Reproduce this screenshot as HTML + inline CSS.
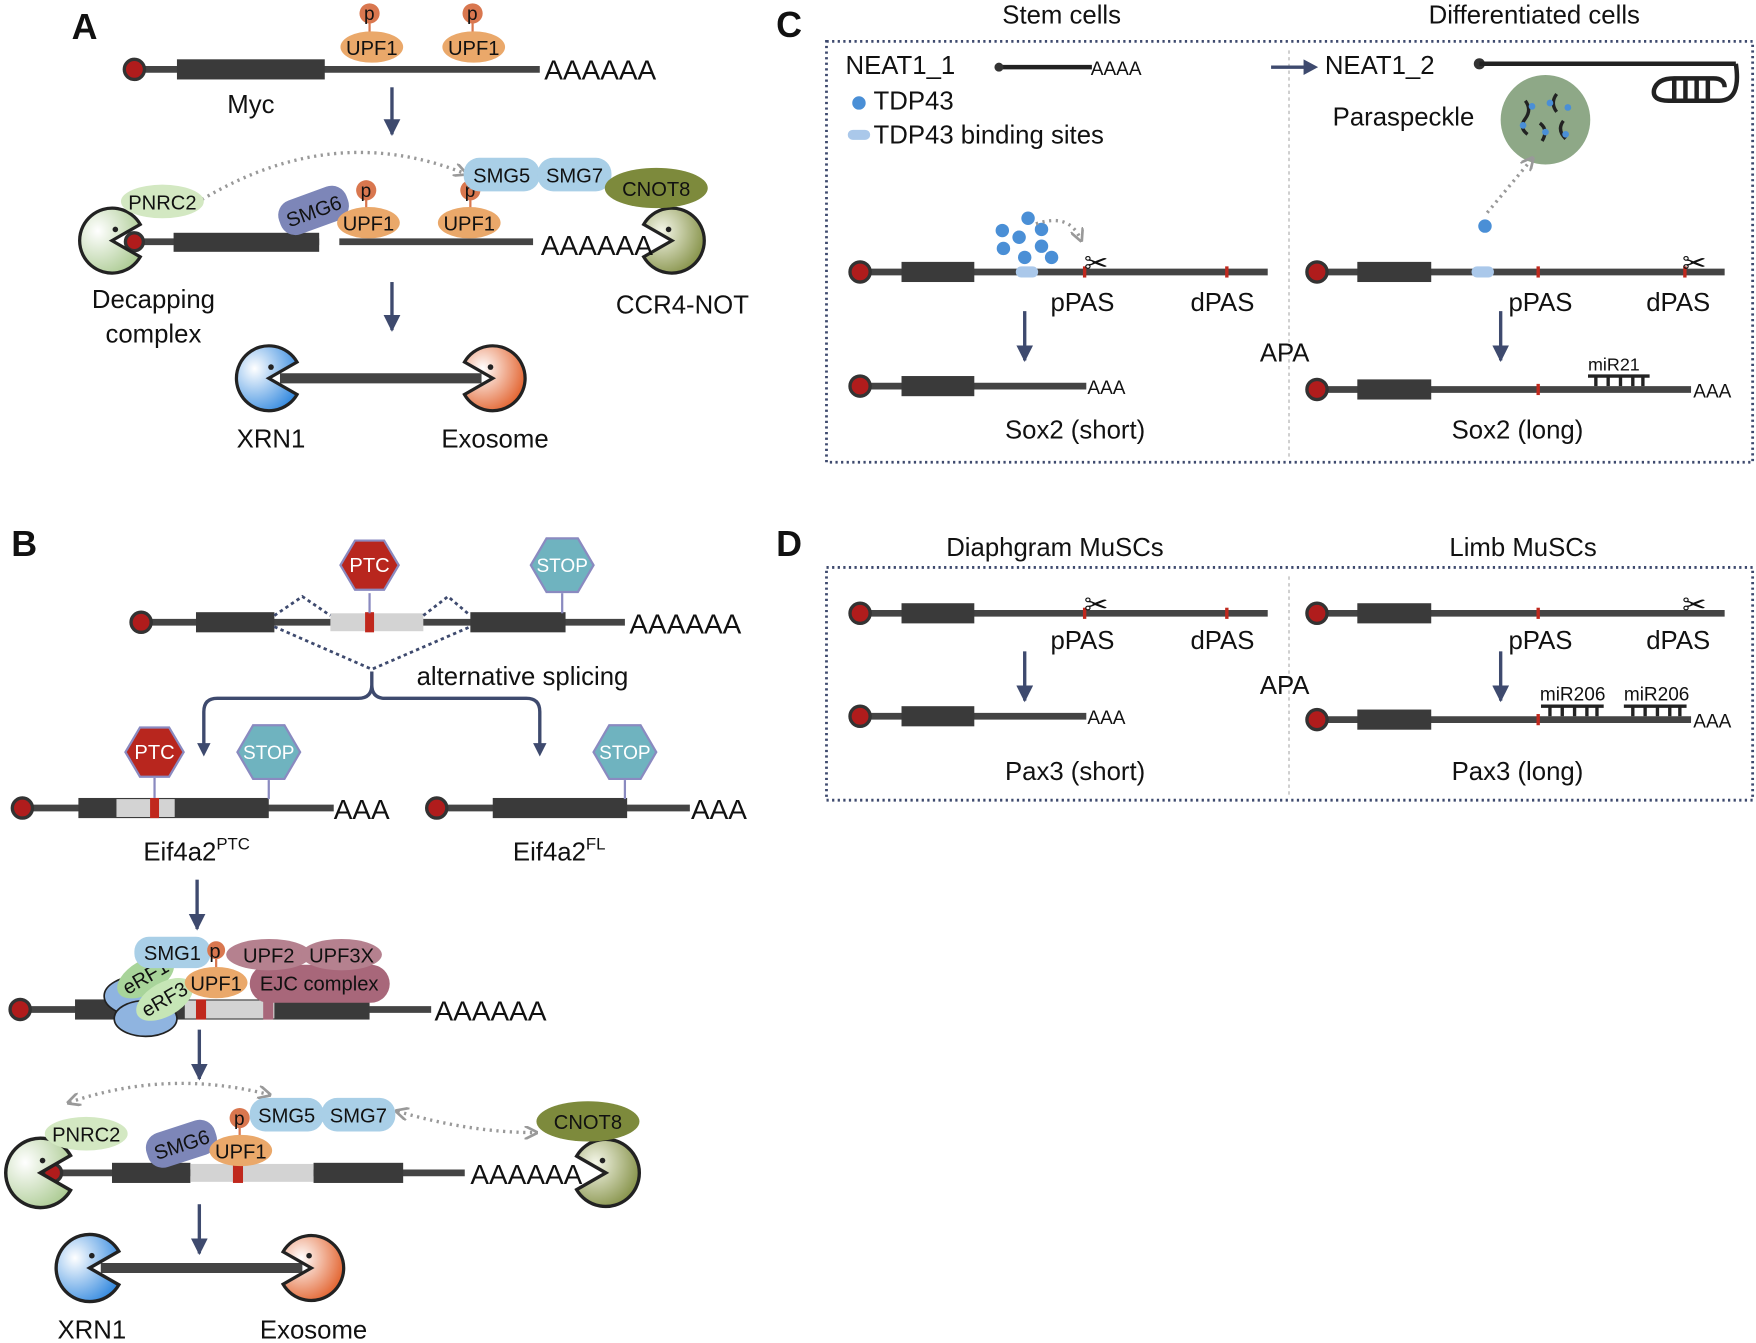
<!DOCTYPE html>
<html><head><meta charset="utf-8"><style>html,body{margin:0;padding:0;background:#fff}svg{display:block}text{font-family:"Liberation Sans",Arial,sans-serif;fill:#111}</style></head><body>
<svg width="1756" height="1343" viewBox="0 0 1568 1200" preserveAspectRatio="none" xmlns="http://www.w3.org/2000/svg">
<defs>
<radialGradient id="gG" cx="0.3" cy="0.35" r="0.8"><stop offset="0" stop-color="#fff"/><stop offset="1" stop-color="#a9c98f"/></radialGradient>
<radialGradient id="gO" cx="0.7" cy="0.35" r="0.8"><stop offset="0" stop-color="#f4f6e8"/><stop offset="1" stop-color="#7d8a3c"/></radialGradient>
<radialGradient id="gB" cx="0.3" cy="0.35" r="0.8"><stop offset="0" stop-color="#fff"/><stop offset="1" stop-color="#2e86de"/></radialGradient>
<radialGradient id="gR" cx="0.7" cy="0.35" r="0.8"><stop offset="0" stop-color="#fff"/><stop offset="1" stop-color="#e0561d"/></radialGradient>
<marker id="ah" viewBox="0 0 10 10" refX="9" refY="5" markerWidth="5" markerHeight="5" orient="auto"><path d="M0,0 L10,5 L0,10 Z" fill="#3e4a6e"/></marker>
<marker id="ag" viewBox="0 0 10 10" refX="8" refY="5" markerWidth="4" markerHeight="4" orient="auto-start-reverse"><path d="M0,0 L10,5 L0,10" fill="none" stroke="#999" stroke-width="2"/></marker>
</defs>
<style>
.ln{stroke:#444;stroke-width:6}
.cds{fill:#3a3a3a}
.cap{fill:#b01c1c;stroke:#333;stroke-width:3}
.ar{stroke:#3e4a6e;stroke-width:3;fill:none}
.t{font-size:23px}
.s{font-size:18px}
.dot{stroke:#999;stroke-width:3;stroke-dasharray:2 4;fill:none}
.hd{font-size:32px;font-weight:bold}
</style>

<!-- ================= A ================= -->
<text x="64" y="35" class="hd">A</text>
<line x1="120" y1="62" x2="482" y2="62" class="ln"/>
<rect x="158" y="53" width="132" height="18" class="cds"/>
<circle cx="120" cy="62" r="9" class="cap"/>
<line x1="330" y1="18" x2="330" y2="32" stroke="#d9774f" stroke-width="2"/><circle cx="330" cy="12" r="9" fill="#d9774f"/><text x="325" y="18" font-size="17">p</text>
<line x1="422" y1="18" x2="422" y2="32" stroke="#d9774f" stroke-width="2"/><circle cx="422" cy="12" r="9" fill="#d9774f"/><text x="417" y="18" font-size="17">p</text>
<ellipse cx="332" cy="42" rx="28" ry="14" fill="#eaa86a"/><text x="332" y="49" class="s" text-anchor="middle">UPF1</text>
<ellipse cx="423" cy="42" rx="28" ry="14" fill="#eaa86a"/><text x="423" y="49" class="s" text-anchor="middle">UPF1</text>
<text x="486" y="71" font-size="25">AAAAAA</text>
<text x="224" y="101" class="t" text-anchor="middle">Myc</text>
<line x1="350" y1="78" x2="350" y2="120" class="ar" marker-end="url(#ah)"/>

<path d="M165,188 Q290,105 415,155" class="dot" marker-start="url(#ag)" marker-end="url(#ag)"/>
<line x1="115" y1="216" x2="285" y2="216" class="ln"/>
<rect x="155" y="208" width="130" height="17" class="cds"/>
<line x1="303" y1="216" x2="476" y2="216" class="ln"/>
<circle cx="120" cy="216" r="8" class="cap"/>
<path transform="translate(100,215) scale(29)" d="M0,0 L0.87,-0.5 A1,1 0 1,0 0.87,0.5 Z" fill="url(#gG)" stroke="#222" stroke-width="0.1"/>
<circle cx="103" cy="205" r="2.5" fill="#222"/>
<path transform="translate(600,215) scale(-29,29)" d="M0,0 L0.87,-0.5 A1,1 0 1,0 0.87,0.5 Z" fill="url(#gO)" stroke="#222" stroke-width="0.1"/>
<circle cx="597" cy="205" r="2.5" fill="#222"/>
<ellipse cx="145" cy="180" rx="37" ry="15" fill="#d3e8c2"/><text x="145" y="187" class="s" text-anchor="middle">PNRC2</text>
<g transform="translate(280,188) rotate(-20)"><rect x="-32" y="-16" width="64" height="32" rx="14" fill="#7d86b8"/><text x="0" y="7" class="s" text-anchor="middle">SMG6</text></g>
<line x1="327" y1="175" x2="327" y2="187" stroke="#d9774f" stroke-width="2"/><circle cx="327" cy="170" r="9" fill="#d9774f"/><text x="322" y="176" font-size="17">p</text>
<line x1="420" y1="175" x2="420" y2="187" stroke="#d9774f" stroke-width="2"/><circle cx="420" cy="170" r="9" fill="#d9774f"/><text x="415" y="176" font-size="17">p</text>
<ellipse cx="329" cy="199" rx="28" ry="14" fill="#eaa86a"/><text x="329" y="206" class="s" text-anchor="middle">UPF1</text>
<ellipse cx="419" cy="199" rx="28" ry="14" fill="#eaa86a"/><text x="419" y="206" class="s" text-anchor="middle">UPF1</text>
<rect x="414" y="141" width="68" height="30" rx="14" fill="#a9cfe7"/><text x="448" y="163" class="s" text-anchor="middle">SMG5</text>
<rect x="480" y="141" width="66" height="30" rx="14" fill="#a9cfe7"/><text x="513" y="163" class="s" text-anchor="middle">SMG7</text>
<ellipse cx="586" cy="168" rx="46" ry="18" fill="#7d8a3c"/><text x="586" y="175" class="s" text-anchor="middle">CNOT8</text>
<text x="483" y="228" font-size="25">AAAAAA</text>
<text x="137" y="275" class="t" text-anchor="middle">Decapping</text>
<text x="137" y="306" class="t" text-anchor="middle">complex</text>
<text x="550" y="280" class="t">CCR4-NOT</text>
<rect x="680" y="250" width="12" height="40" fill="#fff"/>
<line x1="350" y1="252" x2="350" y2="295" class="ar" marker-end="url(#ah)"/>
<line x1="250" y1="338" x2="430" y2="338" stroke="#444" stroke-width="9"/>
<path transform="translate(240,338) scale(29)" d="M0,0 L0.87,-0.5 A1,1 0 1,0 0.87,0.5 Z" fill="url(#gB)" stroke="#222" stroke-width="0.1"/><circle cx="242" cy="328" r="2.5" fill="#222"/>
<path transform="translate(440,338) scale(-29,29)" d="M0,0 L0.87,-0.5 A1,1 0 1,0 0.87,0.5 Z" fill="url(#gR)" stroke="#222" stroke-width="0.1"/><circle cx="438" cy="328" r="2.5" fill="#222"/>
<text x="242" y="400" class="t" text-anchor="middle">XRN1</text>
<text x="442" y="400" class="t" text-anchor="middle">Exosome</text>

<!-- ================= B ================= -->
<text x="10" y="497" class="hd">B</text>
<line x1="125" y1="556" x2="558" y2="556" class="ln"/>
<rect x="175" y="547" width="70" height="18" class="cds"/>
<rect x="295" y="548" width="83" height="16" fill="#d3d3d3"/><rect x="326" y="547" width="8" height="18" fill="#c0281d"/>
<rect x="420" y="547" width="85" height="18" class="cds"/>
<circle cx="126" cy="556" r="9" class="cap"/>
<path d="M245,550 L270,533 L295,550 M378,550 L400,533 L420,550 M245,560 L332,598 L420,560" fill="none" stroke="#3e4a6e" stroke-width="2.5" stroke-dasharray="3 3"/>
<line x1="330" y1="530" x2="330" y2="548" stroke="#8a8ac0" stroke-width="2"/>
<polygon points="356,505 343,527 317,527 304,505 317,483 343,483" fill="#b8261e" stroke="#8a8ac0" stroke-width="2"/><text x="330" y="511" class="s" style="fill:#fff" text-anchor="middle">PTC</text>
<line x1="502" y1="530" x2="502" y2="548" stroke="#8a8ac0" stroke-width="2"/>
<polygon points="530,505 516,529 488,529 474,505 488,481 516,481" fill="#6fb3bf" stroke="#8a8ac0" stroke-width="2"/><text x="502" y="511" font-size="17" style="fill:#fff" text-anchor="middle">STOP</text>
<text x="562" y="566" font-size="25">AAAAAA</text>
<text x="372" y="612" class="t">alternative splicing</text>
<path d="M332,600 L332,612 Q332,624 320,624 L194,624 Q182,624 182,636 L182,668 M332,612 Q332,624 344,624 L470,624 Q482,624 482,636 L482,668" class="ar"/>
<path d="M176,664 L182,676 L188,664 Z M476,664 L482,676 L488,664 Z" fill="#3e4a6e"/>

<line x1="20" y1="722" x2="298" y2="722" class="ln"/>
<rect x="70" y="713" width="170" height="18" class="cds"/>
<rect x="104" y="714" width="52" height="16" fill="#d3d3d3"/><rect x="134" y="713" width="8" height="18" fill="#c0281d"/>
<circle cx="20" cy="722" r="9" class="cap"/>
<line x1="138" y1="695" x2="138" y2="713" stroke="#8a8ac0" stroke-width="2"/>
<polygon points="164,672 151,694 125,694 112,672 125,650 151,650" fill="#b8261e" stroke="#8a8ac0" stroke-width="2"/><text x="138" y="678" class="s" style="fill:#fff" text-anchor="middle">PTC</text>
<line x1="240" y1="697" x2="240" y2="714" stroke="#8a8ac0" stroke-width="2"/>
<polygon points="268,672 254,696 226,696 212,672 226,648 254,648" fill="#6fb3bf" stroke="#8a8ac0" stroke-width="2"/><text x="240" y="678" font-size="17" style="fill:#fff" text-anchor="middle">STOP</text>
<text x="298" y="732" font-size="25">AAA</text>
<line x1="390" y1="722" x2="616" y2="722" class="ln"/>
<rect x="440" y="713" width="120" height="18" class="cds"/>
<circle cx="390" cy="722" r="9" class="cap"/>
<line x1="558" y1="697" x2="558" y2="714" stroke="#8a8ac0" stroke-width="2"/>
<polygon points="586,672 572,696 544,696 530,672 544,648 572,648" fill="#6fb3bf" stroke="#8a8ac0" stroke-width="2"/><text x="558" y="678" font-size="17" style="fill:#fff" text-anchor="middle">STOP</text>
<text x="617" y="732" font-size="25">AAA</text>
<text x="128" y="769" class="t">Eif4a2<tspan font-size="15" dy="-10">PTC</tspan></text>
<text x="458" y="769" class="t">Eif4a2<tspan font-size="15" dy="-10">FL</tspan></text>
<line x1="176" y1="786" x2="176" y2="830" class="ar" marker-end="url(#ah)"/>

<line x1="17" y1="902" x2="385" y2="902" class="ln"/>
<rect x="67" y="893" width="263" height="18" class="cds"/>
<rect x="165" y="894" width="80" height="16" fill="#d3d3d3"/><rect x="175" y="893" width="9" height="18" fill="#c0281d"/><rect x="235" y="885" width="9" height="26" fill="#a8677a"/>
<circle cx="18" cy="902" r="9" class="cap"/>
<ellipse cx="125" cy="890" rx="32" ry="18" fill="#8fb4e0" stroke="#222" stroke-width="1.5"/>
<ellipse cx="130" cy="910" rx="28" ry="16" fill="#8fb4e0" stroke="#222" stroke-width="1.5"/>
<g transform="translate(130,873) rotate(-30)"><ellipse rx="28" ry="15" fill="#a8d49a"/><text y="6" class="s" text-anchor="middle">eRF1</text></g>
<g transform="translate(147,893) rotate(-30)"><ellipse rx="28" ry="15" fill="#c6e6b6"/><text y="6" class="s" text-anchor="middle">eRF3</text></g>
<rect x="223" y="862" width="125" height="34" rx="17" fill="#a8677a"/><text x="285" y="885" class="s" text-anchor="middle">EJC complex</text>
<ellipse cx="240" cy="853" rx="38" ry="14" fill="#b5818f"/><text x="240" y="860" class="s" text-anchor="middle">UPF2</text>
<ellipse cx="305" cy="853" rx="36" ry="14" fill="#b5818f"/><text x="305" y="860" class="s" text-anchor="middle">UPF3X</text>
<rect x="120" y="837" width="68" height="28" rx="13" fill="#a9cfe7"/><text x="154" y="858" class="s" text-anchor="middle">SMG1</text>
<line x1="193" y1="854" x2="193" y2="866" stroke="#d9774f" stroke-width="2"/><circle cx="193" cy="849" r="8" fill="#d9774f"/><text x="187" y="856" font-size="18">p</text>
<ellipse cx="193" cy="878" rx="28" ry="14" fill="#eaa86a"/><text x="193" y="885" class="s" text-anchor="middle">UPF1</text>
<text x="388" y="912" font-size="25">AAAAAA</text>
<line x1="178" y1="920" x2="178" y2="964" class="ar" marker-end="url(#ah)"/>

<path d="M62,985 Q150,955 240,978" class="dot" marker-start="url(#ag)" marker-end="url(#ag)"/>
<path d="M355,993 Q420,1012 478,1012" class="dot" marker-start="url(#ag)" marker-end="url(#ag)"/>
<line x1="45" y1="1048" x2="415" y2="1048" class="ln"/>
<rect x="100" y="1039" width="70" height="18" class="cds"/>
<rect x="170" y="1040" width="110" height="16" fill="#d3d3d3"/><rect x="208" y="1039" width="9" height="18" fill="#c0281d"/>
<rect x="280" y="1039" width="80" height="18" class="cds"/>
<circle cx="47" cy="1048" r="8" class="cap"/>
<path transform="translate(36,1048) scale(31)" d="M0,0 L0.87,-0.5 A1,1 0 1,0 0.87,0.5 Z" fill="url(#gG)" stroke="#222" stroke-width="0.1"/><circle cx="38" cy="1037" r="2.5" fill="#222"/>
<path transform="translate(541,1048) scale(-30,30)" d="M0,0 L0.87,-0.5 A1,1 0 1,0 0.87,0.5 Z" fill="url(#gO)" stroke="#222" stroke-width="0.1"/><circle cx="538" cy="1037" r="2.5" fill="#222"/>
<ellipse cx="77" cy="1013" rx="37" ry="15" fill="#d3e8c2"/><text x="77" y="1020" class="s" text-anchor="middle">PNRC2</text>
<g transform="translate(162,1022) rotate(-18)"><rect x="-32" y="-16" width="64" height="32" rx="14" fill="#7d86b8"/><text x="0" y="7" class="s" text-anchor="middle">SMG6</text></g>
<line x1="214" y1="1004" x2="214" y2="1016" stroke="#d9774f" stroke-width="2"/><circle cx="214" cy="999" r="9" fill="#d9774f"/><text x="209" y="1005" font-size="17">p</text>
<ellipse cx="215" cy="1028" rx="28" ry="14" fill="#eaa86a"/><text x="215" y="1035" class="s" text-anchor="middle">UPF1</text>
<rect x="223" y="981" width="66" height="30" rx="14" fill="#a9cfe7"/><text x="256" y="1003" class="s" text-anchor="middle">SMG5</text>
<rect x="287" y="981" width="66" height="30" rx="14" fill="#a9cfe7"/><text x="320" y="1003" class="s" text-anchor="middle">SMG7</text>
<ellipse cx="525" cy="1002" rx="46" ry="18" fill="#7d8a3c"/><text x="525" y="1009" class="s" text-anchor="middle">CNOT8</text>
<text x="420" y="1058" font-size="25">AAAAAA</text>
<line x1="178" y1="1076" x2="178" y2="1120" class="ar" marker-end="url(#ah)"/>
<line x1="90" y1="1133" x2="270" y2="1133" stroke="#444" stroke-width="9"/>
<path transform="translate(80,1133) scale(30)" d="M0,0 L0.87,-0.5 A1,1 0 1,0 0.87,0.5 Z" fill="url(#gB)" stroke="#222" stroke-width="0.1"/><circle cx="82" cy="1122" r="2.5" fill="#222"/>
<path transform="translate(278,1133) scale(-29,29)" d="M0,0 L0.87,-0.5 A1,1 0 1,0 0.87,0.5 Z" fill="url(#gR)" stroke="#222" stroke-width="0.1"/><circle cx="276" cy="1122" r="2.5" fill="#222"/>
<text x="82" y="1196" class="t" text-anchor="middle">XRN1</text>
<text x="280" y="1196" class="t" text-anchor="middle">Exosome</text>

<!-- ================= C ================= -->
<text x="693" y="33" class="hd">C</text>
<text x="948" y="21" class="t" text-anchor="middle">Stem cells</text>
<text x="1370" y="21" class="t" text-anchor="middle">Differentiated cells</text>
<rect x="738" y="37" width="827" height="376" fill="none" stroke="#3e4a6e" stroke-width="2.5" stroke-dasharray="2 3"/>
<line x1="1151" y1="45" x2="1151" y2="408" stroke="#aaa" stroke-width="1" stroke-dasharray="3 3"/>
<text x="755" y="66" class="t">NEAT1_1</text>
<line x1="892" y1="60" x2="975" y2="60" stroke="#222" stroke-width="4"/><circle cx="892" cy="60" r="4" fill="#333"/>
<text x="974" y="67" font-size="17">AAAA</text>
<circle cx="767" cy="92" r="6" fill="#4a8fd6"/><text x="780" y="98" class="t">TDP43</text>
<rect x="757" y="116" width="20" height="9" rx="4.5" fill="#aac8ea"/><text x="780" y="128" class="t">TDP43 binding sites</text>
<line x1="1135" y1="60" x2="1168" y2="60" stroke="#3e4a6e" stroke-width="3"/><path d="M1164,53 L1177,60 L1164,67 Z" fill="#3e4a6e"/>
<text x="1183" y="66" class="t">NEAT1_2</text>
<circle cx="1321" cy="57" r="5" fill="#333"/>
<path d="M1321,57 L1550,57 M1550,57 Q1555,90 1535,90 L1490,90 Q1475,90 1477,80 Q1480,70 1495,70 L1530,70 Q1540,70 1540,78 M1495,70 L1495,90 M1505,70 L1505,90 M1515,70 L1515,90 M1525,70 L1525,90" fill="none" stroke="#222" stroke-width="4"/>
<text x="1190" y="112" class="t">Paraspeckle</text>
<circle cx="1380" cy="107" r="40" fill="#8ea887"/>
<g stroke="#222" stroke-width="3" fill="none"><path d="M1362,90 q6,8 0,16 q-6,8 2,14"/><path d="M1390,84 q-6,8 0,16"/><path d="M1375,110 q8,6 2,16"/><path d="M1396,108 q-6,8 2,16"/></g>
<g fill="#4a8fd6"><circle cx="1368" cy="95" r="3"/><circle cx="1384" cy="92" r="3"/><circle cx="1400" cy="96" r="3"/><circle cx="1360" cy="112" r="3"/><circle cx="1380" cy="118" r="3"/><circle cx="1398" cy="120" r="3"/></g>
<path d="M1328,190 L1368,142" class="dot" marker-end="url(#ag)"/>
<circle cx="1326" cy="202" r="6" fill="#4a8fd6"/>

<line x1="768" y1="243" x2="1132" y2="243" class="ln"/>
<rect x="805" y="234" width="65" height="18" class="cds"/>
<rect x="967" y="238" width="3" height="10" fill="#c0281d"/><rect x="1094" y="238" width="3" height="10" fill="#c0281d"/>
<circle cx="768" cy="243" r="9" class="cap"/>
<rect x="907" y="238" width="20" height="10" rx="5" fill="#aac8ea"/>
<g fill="#4a8fd6"><circle cx="895" cy="206" r="6"/><circle cx="918" cy="195" r="6"/><circle cx="910" cy="212" r="6"/><circle cx="930" cy="205" r="6"/><circle cx="896" cy="222" r="6"/><circle cx="915" cy="230" r="6"/><circle cx="930" cy="220" r="6"/><circle cx="939" cy="230" r="6"/></g>
<path d="M925,200 Q955,190 965,214" class="dot" marker-end="url(#ag)"/>
<text x="968" y="244" font-size="26">✂</text>
<text x="938" y="278" class="t">pPAS</text><text x="1063" y="278" class="t">dPAS</text>
<line x1="1175" y1="243" x2="1540" y2="243" class="ln"/>
<rect x="1212" y="234" width="66" height="18" class="cds"/>
<rect x="1372" y="238" width="3" height="10" fill="#c0281d"/><rect x="1503" y="238" width="3" height="10" fill="#c0281d"/>
<circle cx="1176" cy="243" r="9" class="cap"/>
<rect x="1314" y="238" width="20" height="10" rx="5" fill="#aac8ea"/>
<text x="1502" y="244" font-size="26">✂</text>
<text x="1347" y="278" class="t">pPAS</text><text x="1470" y="278" class="t">dPAS</text>
<line x1="915" y1="278" x2="915" y2="322" class="ar" marker-end="url(#ah)"/>
<line x1="1340" y1="278" x2="1340" y2="322" class="ar" marker-end="url(#ah)"/>
<text x="1125" y="323" class="t">APA</text>
<line x1="768" y1="345" x2="970" y2="345" class="ln"/>
<rect x="805" y="336" width="65" height="18" class="cds"/>
<circle cx="768" cy="345" r="9" class="cap"/>
<text x="971" y="352" font-size="17">AAA</text>
<text x="960" y="392" class="t" text-anchor="middle">Sox2 (short)</text>
<line x1="1175" y1="348" x2="1510" y2="348" class="ln"/>
<rect x="1212" y="339" width="66" height="18" class="cds"/>
<rect x="1372" y="343" width="3" height="10" fill="#c0281d"/>
<circle cx="1176" cy="348" r="9" class="cap"/>
<path d="M1418,336 L1473,336 M1425,336 V345 M1436,336 V345 M1447,336 V345 M1458,336 V345 M1467,336 V345" stroke="#222" stroke-width="3"/>
<text x="1418" y="331" font-size="16">miR21</text>
<text x="1512" y="355" font-size="17">AAA</text>
<text x="1355" y="392" class="t" text-anchor="middle">Sox2 (long)</text>

<!-- ================= D ================= -->
<text x="693" y="497" class="hd">D</text>
<text x="942" y="497" class="t" text-anchor="middle">Diaphgram MuSCs</text>
<text x="1360" y="497" class="t" text-anchor="middle">Limb MuSCs</text>
<rect x="738" y="507" width="827" height="208" fill="none" stroke="#3e4a6e" stroke-width="2.5" stroke-dasharray="2 3"/>
<line x1="1151" y1="515" x2="1151" y2="710" stroke="#aaa" stroke-width="1" stroke-dasharray="3 3"/>
<line x1="768" y1="548" x2="1132" y2="548" class="ln"/>
<rect x="805" y="539" width="65" height="18" class="cds"/>
<rect x="967" y="543" width="3" height="10" fill="#c0281d"/><rect x="1094" y="543" width="3" height="10" fill="#c0281d"/>
<circle cx="768" cy="548" r="9" class="cap"/>
<text x="968" y="549" font-size="26">✂</text>
<text x="938" y="580" class="t">pPAS</text><text x="1063" y="580" class="t">dPAS</text>
<line x1="1175" y1="548" x2="1540" y2="548" class="ln"/>
<rect x="1212" y="539" width="66" height="18" class="cds"/>
<rect x="1372" y="543" width="3" height="10" fill="#c0281d"/>
<circle cx="1176" cy="548" r="9" class="cap"/>
<text x="1502" y="549" font-size="26">✂</text>
<text x="1347" y="580" class="t">pPAS</text><text x="1470" y="580" class="t">dPAS</text>
<line x1="915" y1="582" x2="915" y2="626" class="ar" marker-end="url(#ah)"/>
<line x1="1340" y1="582" x2="1340" y2="626" class="ar" marker-end="url(#ah)"/>
<text x="1125" y="620" class="t">APA</text>
<line x1="768" y1="640" x2="970" y2="640" class="ln"/>
<rect x="805" y="631" width="65" height="18" class="cds"/>
<circle cx="768" cy="640" r="9" class="cap"/>
<text x="971" y="647" font-size="17">AAA</text>
<text x="960" y="697" class="t" text-anchor="middle">Pax3 (short)</text>
<line x1="1175" y1="643" x2="1510" y2="643" class="ln"/>
<rect x="1212" y="634" width="66" height="18" class="cds"/>
<rect x="1372" y="638" width="3" height="10" fill="#c0281d"/>
<circle cx="1176" cy="643" r="9" class="cap"/>
<path d="M1376,631 L1432,631 M1384,631 V640 M1395,631 V640 M1406,631 V640 M1417,631 V640 M1426,631 V640 M1450,631 L1506,631 M1458,631 V640 M1469,631 V640 M1480,631 V640 M1491,631 V640 M1500,631 V640" stroke="#222" stroke-width="3"/>
<text x="1375" y="626" font-size="17">miR206</text><text x="1450" y="626" font-size="17">miR206</text>
<text x="1512" y="650" font-size="17">AAA</text>
<text x="1355" y="697" class="t" text-anchor="middle">Pax3 (long)</text>
</svg>
</body></html>
